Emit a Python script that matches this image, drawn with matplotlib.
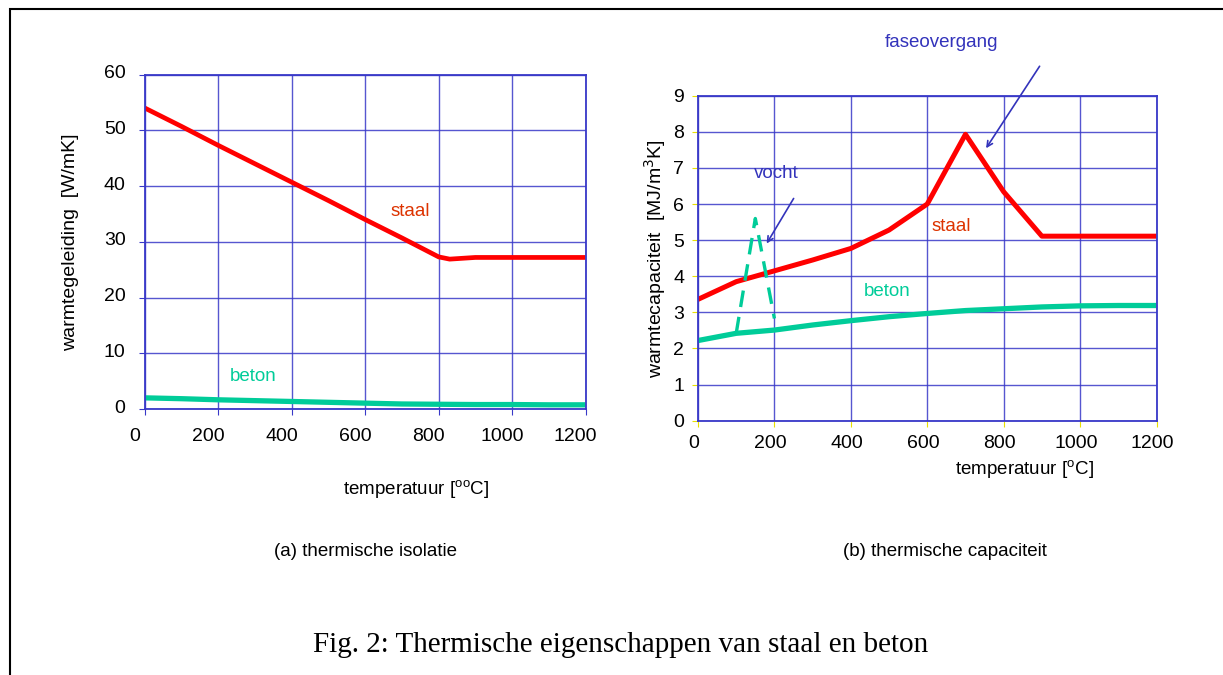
import numpy as np
import matplotlib.pyplot as plt
import matplotlib.transforms as mtransforms
from matplotlib.patches import Rectangle

plt.rcParams['font.family'] = ['Liberation Sans', 'DejaVu Sans']

# (a) thermische isolatie
temp_a = [0, 100, 200, 300, 400, 500, 600, 700, 800, 830, 900, 1200]
staal_a = [54, 50.7, 47.3, 44.0, 40.7, 37.4, 34.0, 30.7, 27.3, 26.9, 27.2, 27.2]
temp_beton_a = [0, 100, 200, 300, 400, 500, 600, 700, 800, 900, 1000, 1100, 1200]
beton_a = [2.0, 1.85, 1.65, 1.5, 1.35, 1.2, 1.05, 0.9, 0.85, 0.8, 0.8, 0.75, 0.75]

# (b) thermische capaciteit
temp_b = [0, 100, 200, 300, 400, 500, 600, 700, 800, 900, 1200]
staal_b = [3.36, 3.85, 4.15, 4.45, 4.77, 5.28, 6.0, 7.93, 6.34, 5.11, 5.11]
temp_beton_b = [0, 100, 200, 300, 400, 500, 600, 700, 800, 900, 1000, 1100, 1200]
beton_b = [2.22, 2.42, 2.51, 2.65, 2.77, 2.88, 2.97, 3.05, 3.10, 3.15, 3.18, 3.19, 3.19]
temp_vocht = [100, 150, 200]
vocht = [2.42, 5.6, 2.83]

rood = '#ff0000'
groen = '#00cc99'
blauw = '#3838c8'
tekst_blauw = '#3333bb'

W, H = 1223, 675
fig = plt.figure(figsize=(W / 100, H / 100), dpi=100)

# kader rond de figuur
fig.patches.append(Rectangle((10.5 / W, -0.05), 1.2, 1 - 9 / H + 0.05,
                             transform=fig.transFigure, fill=False,
                             edgecolor='black', linewidth=1.5))

ax1 = fig.add_axes([145 / W, 1 - 409 / H, 440.5 / W, 334.3 / H])
ax2 = fig.add_axes([698 / W, 1 - 420.7 / H, 458.5 / W, 325 / H])

for ax in (ax1, ax2):
    ax.set_xlim(0, 1200)
    ax.set_xticks(range(0, 1201, 200))
    ax.grid(True, color=blauw, linewidth=1, alpha=0.85)
    for s in ax.spines.values():
        s.set_color(blauw)
        s.set_linewidth(1.3)
    ax.tick_params(labelsize=14, length=4)


def verschuif(labels, dx, dy):
    off = mtransforms.ScaledTranslation(dx / 100, dy / 100, fig.dpi_scale_trans)
    for lab in labels:
        lab.set_transform(lab.get_transform() + off)


# linker grafiek
ax1.set_ylim(0, 60)
ax1.set_yticks(range(0, 61, 10))
ax1.tick_params(axis='x', pad=10, color=blauw)
ax1.tick_params(axis='y', pad=10, color=blauw)
ax1.plot(temp_a, staal_a, color=rood, linewidth=3.4, solid_capstyle='butt')
ax1.plot(temp_beton_a, beton_a, color=groen, linewidth=3.8, solid_capstyle='butt')
ax1.text(722, 35.4, 'staal', color='#dd3300', fontsize=13.5, ha='center', va='center')
ax1.text(294, 5.8, 'beton', color=groen, fontsize=13.5, ha='center', va='center')
ax1.set_ylabel('warmtegeleiding  [W/mK]', fontsize=14, labelpad=18)
verschuif(ax1.get_xticklabels(), -10, 0)
verschuif(ax1.get_yticklabels(), 0, 3)

# rechter grafiek
ax2.set_ylim(0, 9)
ax2.set_yticks(range(0, 10))
ax2.tick_params(axis='both', color='#e8e000')
ax2.tick_params(axis='x', pad=6)
ax2.tick_params(axis='y', pad=6)
ax2.plot(temp_b, staal_b, color=rood, linewidth=3.6, solid_capstyle='butt')
ax2.plot(temp_beton_b, beton_b, color=groen, linewidth=3.8, solid_capstyle='butt')
ax2.plot(temp_vocht, vocht, color=groen, linewidth=2.4, linestyle=(0, (5, 3)))
ax2.text(664, 5.37, 'staal', color='#dd3300', fontsize=13.5, ha='center', va='center')
ax2.text(495, 3.57, 'beton', color=groen, fontsize=13.5, ha='center', va='center')
ax2.text(204, 6.85, 'vocht', color=tekst_blauw, fontsize=13.5, ha='center', va='center')
ax2.annotate('', xy=(176, 4.84), xytext=(254, 6.22),
             arrowprops=dict(arrowstyle='->', color=tekst_blauw, lw=1.2))
ax2.text(637, 10.47, 'faseovergang', color=tekst_blauw, fontsize=13.5,
         ha='center', va='center', clip_on=False)
ax2.annotate('', xy=(750, 7.48), xytext=(898, 9.88),
             arrowprops=dict(arrowstyle='->', color=tekst_blauw, lw=1.2),
             annotation_clip=False)
ax2.set_ylabel('warmtecapaciteit  [MJ/m$^3$K]', fontsize=14, labelpad=4)
verschuif(ax2.get_xticklabels(), -4, 0)

# asteksten en bijschriften
fig.text(416 / W, 1 - 490 / H, r'temperatuur [$^{\mathregular{oo}}$C]',
         fontsize=13.5, ha='center', va='center')
fig.text(1024 / W, 1 - 470 / H, r'temperatuur [$^{\mathregular{o}}$C]',
         fontsize=13.5, ha='center', va='center')
fig.text(366 / W, 1 - 551 / H, '(a) thermische isolatie',
         fontsize=13.5, ha='center', va='center')
fig.text(945 / W, 1 - 551 / H, '(b) thermische capaciteit',
         fontsize=13.5, ha='center', va='center')
fig.text(621 / W, 1 - 645 / H, 'Fig. 2: Thermische eigenschappen van staal en beton',
         fontsize=21, ha='center', va='center', family='Liberation Serif')

plt.savefig('out.png', dpi=100)
